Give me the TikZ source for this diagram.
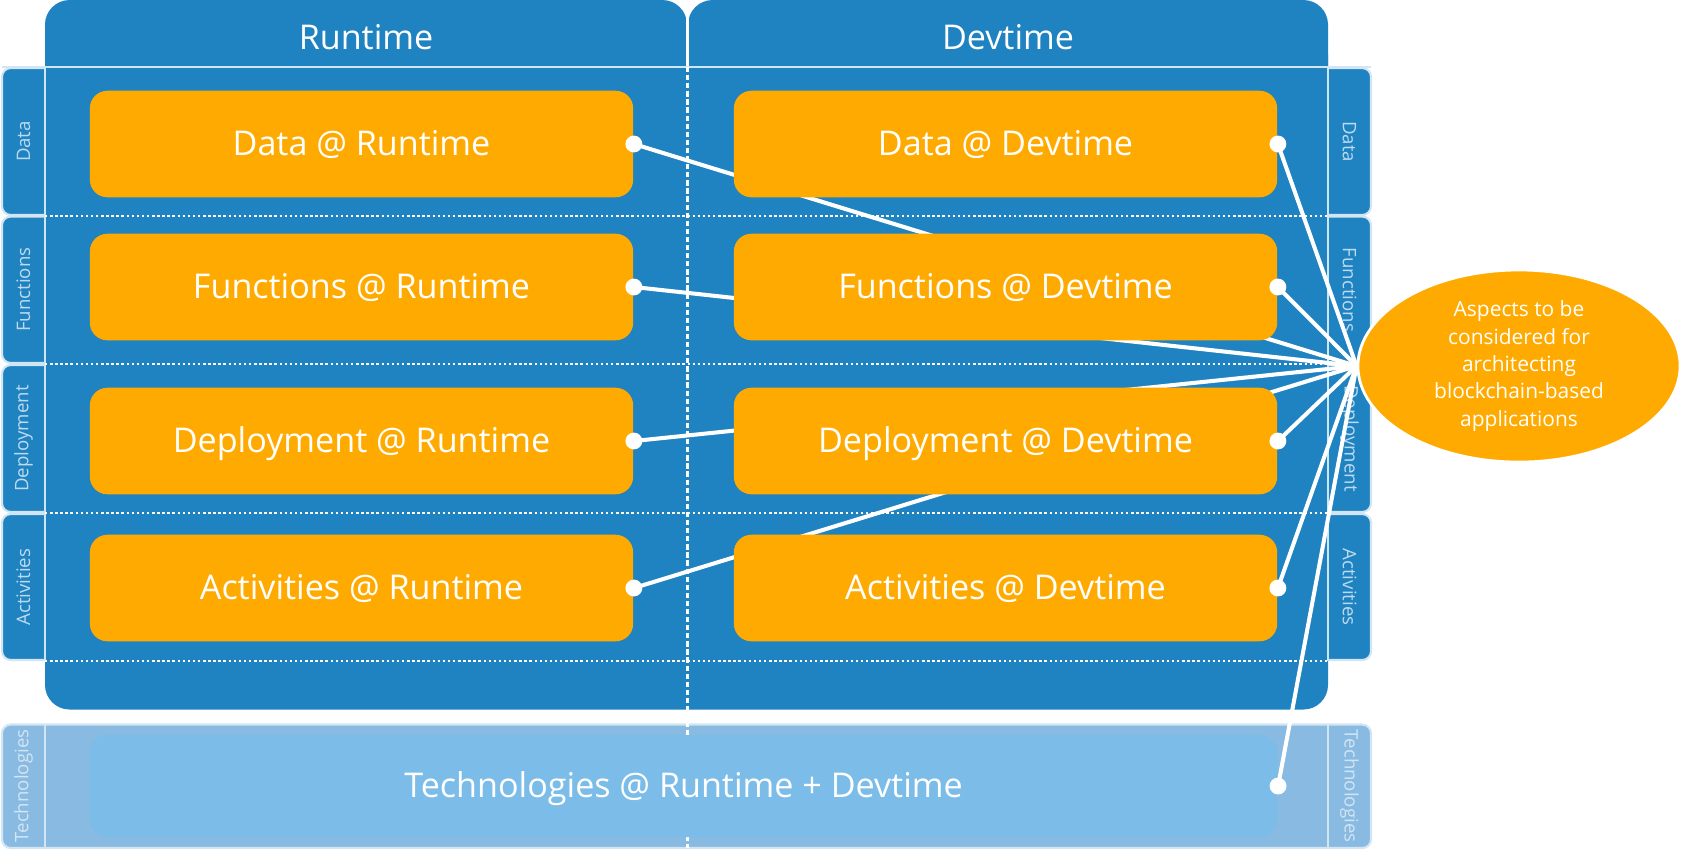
\documentclass[tikz,border=0pt]{standalone}
\usepackage{fontspec}
\setmainfont{Open Sans}
\usetikzlibrary{shapes.geometric}
\definecolor{cblue}{HTML}{1F82C1}
\definecolor{corange}{HTML}{FFAA00}
\definecolor{cline}{HTML}{D2E5F3}
\definecolor{ctab}{HTML}{BCDBF0}
\definecolor{ctech}{HTML}{89BAE1}
\definecolor{ctechbox}{HTML}{7BBDE8}
\tikzset{
  aspect/.style={fill=#1, rounded corners=5pt, minimum width=5.43cm, minimum height=1.065cm, inner sep=0pt, text height=8.8pt, text depth=2pt, text=white, font=\fontsize{9.7}{12}\selectfont},
  aspect/.default=corange,
  head/.style={text=white, font=\fontsize{9.7}{12}\selectfont},
  tabbox/.style={fill=#1, draw=cline, line width=0.6pt, rounded corners=2.5pt},
  tabbox/.default=cblue,
  tablabel/.style={text=ctab, font=\fontsize{5.3}{6}\selectfont},
  link/.style={draw=white, line width=1.15pt},
  sep/.style={draw=cline, line width=0.6pt},
  rowsep/.style={draw=white, line width=0.6pt, dash pattern=on 0.7pt off 0.75pt},
  colsep/.style={draw=white, line width=0.6pt, dash pattern=on 1.5pt off 0.8pt},
  dot/.style={fill=white},
}
\begin{document}
\begin{tikzpicture}[x=0.01cm, y=-0.01cm]
  \useasboundingbox (0,0) rectangle (1683,856);
  % row tabs on both sides
  \foreach \row/\top/\bot in {Data/68/215, Functions/216.5/363, Deployment/365/512, Activities/514/660} {
    \draw[tabbox] (2,\top) rectangle (60,\bot);
    \draw[tabbox] (1313,\top) rectangle (1371,\bot);
    \node[tablabel, rotate=90] (\row L) at (23.5,{(\top+\bot)/2}) {\row};
    \node[tablabel, rotate=-90] (\row R) at (1349.5,{(\top+\bot)/2}) {\row};
  }
  \fill[cblue, rounded corners=7pt] (45,30) rectangle (1328,709.5);
  \fill[cblue, rounded corners=7pt] (45,0) rectangle (687,100);
  \fill[cblue, rounded corners=7pt] (688,0) rectangle (1328,100);
  \draw[white, line width=0.6pt] (687.5,0) -- (687.5,67);
  \node[head] (runtime) at (366,37) {Runtime};
  \node[head] (devtime) at (1008,37) {Devtime};
  \draw[sep] (2,67) -- (1371,67);
  \draw[sep] (45,67) -- (45,661);
  \draw[sep] (1328,67) -- (1328,661);
  \foreach \y in {215.7, 364, 513, 661}
    \draw[rowsep] (45,\y) -- (1328,\y);
  % technologies band
  \draw[tabbox=ctech] (2,724.5) rectangle (1371,848);
  \draw[sep] (45,724.5) -- (45,848);
  \draw[sep] (1328,724.5) -- (1328,848);
  \node[tablabel, text=cline, rotate=90] (techL) at (23.5,786) {Technologies};
  \node[tablabel, text=cline, rotate=-90] (techR) at (1349.5,786) {Technologies};
  \draw[colsep] (687.5,67) -- (687.5,848);
  \node[aspect=ctechbox, minimum width=11.87cm, minimum height=1.02cm] (tech) at (683.5,786) {Technologies @ Runtime + Devtime};
  \node[ellipse, fill=corange, draw=white, line width=0.8pt, minimum width=3.22cm, minimum height=1.92cm, inner sep=0pt, align=center, text=white, font=\fontsize{5.95}{7.8}\selectfont] (aspects) at (1519,366) {Aspects to be\\considered for\\architecting\\blockchain-based\\applications};
  \foreach \row/\y in {Data/144, Functions/287, Deployment/441, Activities/588} {
    \node[aspect] (\row RT) at (361.5,\y) {\row{} @ Runtime};
    \draw[link] (\row RT.east) -- (aspects.west);
  }
  \foreach \row/\y in {Data/144, Functions/287, Deployment/441, Activities/588}
    \node[aspect] (\row DT) at (1005.5,\y) {\row{} @ Devtime};
  \foreach \row in {Data, Functions, Deployment, Activities} {
    \draw[link] (\row DT.east) -- (aspects.west);
    \fill[dot] (\row RT.east) circle (2.4pt);
    \fill[dot] (\row DT.east) circle (2.4pt);
  }
  \draw[link] (tech.east) -- (aspects.west);
  \fill[dot] (tech.east) circle (2.4pt);
\end{tikzpicture}
\end{document}
